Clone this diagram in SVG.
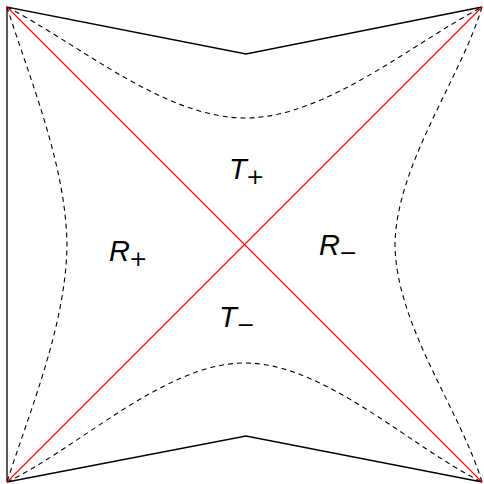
<svg xmlns="http://www.w3.org/2000/svg" width="484" height="484" viewBox="0 0 484 484">
<style>
.b{fill:none;stroke:#000;stroke-width:1.3}
.d{fill:none;stroke:#000;stroke-width:1.1;stroke-dasharray:5,4}
.r{fill:none;stroke:#f00;stroke-width:1.1}
.m{font-family:"Liberation Sans",Arial,sans-serif;font-style:italic;font-size:29px}
.s{font-family:"DejaVu Sans",sans-serif;font-size:22px}
</style>
<rect width="484" height="484" fill="#fff"/>
<g id="boundary">
<path class="b" d="M7,482 L7,7 L246,54 L482,7"/>
<path class="b" d="M7,482 L246,436 L482,482"/>
</g>
<g id="connectors">
<path class="d" d="M7,7 C80,45 165,118 245,118 C325,118 410,45 482,7"/>
<path class="d" d="M7,482 C80,447 165,363 245,363 C325,363 410,447 482,482"/>
<path class="d" d="M7,7 C30,80 66,165 67,245 C66,325 30,410 7,482"/>
<path class="d" d="M482,7 C460,80 396,165 395,245 C396,325 460,410 482,482"/>
<path class="r" d="M7,7 L482,482"/>
<path class="r" d="M482,7 L7,482"/>
</g>
<g id="T-plus"><text><tspan class="m" x="229" y="179">T</tspan><tspan class="s" x="246" y="184">+</tspan></text></g>
<g id="T-minus"><text><tspan class="m" x="219" y="327">T</tspan><tspan class="s" x="236.5" y="332">−</tspan></text></g>
<g id="R-plus"><text><tspan class="m" x="109" y="261">R</tspan><tspan class="s" x="129" y="266">+</tspan></text></g>
<g id="R-minus"><text><tspan class="m" x="319" y="255">R</tspan><tspan class="s" x="339" y="260">−</tspan></text></g>
</svg>
